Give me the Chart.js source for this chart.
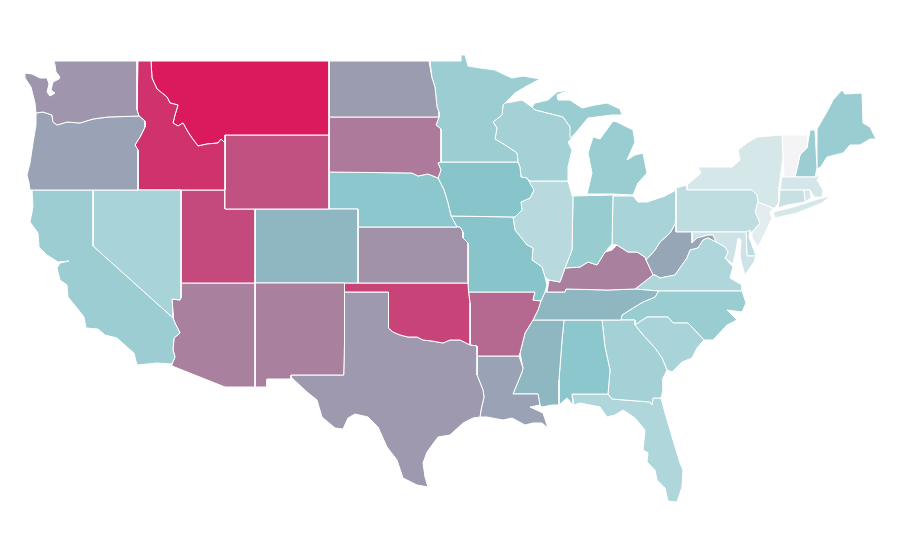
<!DOCTYPE html>
<html>
<head>
<meta charset="utf-8">
<title>Lower 48 states</title>
<script src="https://cdn.jsdelivr.net/npm/chart.js@4"></script>
<style>
	html, body { margin: 0; padding: 0; background: #fff; }
	#box { width: 900px; height: 560px; }
</style>
</head>
<body>
<div id="box"><canvas id="mapa" width="900" height="560"></canvas></div>
<script>
// state values, 0 (lightest) to 100 (most red)
const stateNames = ['Washington', 'Oregon', 'California', 'Nevada', 'Idaho', 'Montana', 'Wyoming', 'Utah', 'Arizona', 'New Mexico', 'Colorado', 'North Dakota', 'South Dakota', 'Nebraska', 'Kansas', 'Oklahoma', 'Texas', 'Minnesota', 'Iowa', 'Missouri', 'Arkansas', 'Louisiana', 'Wisconsin', 'Illinois', 'Michigan', 'Michigan (upper)', 'Indiana', 'Ohio', 'Kentucky', 'Tennessee', 'Mississippi', 'Alabama', 'Georgia', 'Florida', 'South Carolina', 'North Carolina', 'Virginia', 'West Virginia', 'Maryland', 'Delaware', 'Pennsylvania', 'New Jersey', 'New York', 'New York (Long Island)', 'Connecticut', 'Rhode Island', 'Massachusetts', 'Vermont', 'New Hampshire', 'Maine'];
const stateValues = [64, 60, 41, 35, 93, 100, 84, 86, 70, 70, 54, 62, 72, 48, 65, 88, 63, 41, 50, 50, 77, 60, 37, 28, 42, 42, 43, 35, 70, 54, 54, 48, 37, 32, 35, 42, 32, 59, 18, 25, 25, 8, 14, 14, 21, 15, 15, 0, 41, 42];

// outlines as x,y pairs in map units (0-900 across, 0-560 down)
const washington = [54,61, 137,61, 137,110, 139,116, 108,117, 93,119, 80,123, 67,122, 57,125, 53,122, 52,115, 43,112, 36,113, 35,103, 31,87, 25,78, 25,73, 32,74, 40,78, 47,78, 49,84, 47,92, 50,96, 55,93, 51,90, 53,82, 59,79, 60,77, 56,72, 55,65];
const oregon = [36,113, 43,112, 52,115, 53,122, 57,125, 67,122, 80,123, 93,119, 108,117, 139,116, 145,121, 145,127, 140,137, 135,145, 138,150, 138,157, 138,190, 30,190, 29,183, 27,175, 30,163, 33,143, 36,125];
const california = [32,190, 93,190, 93,246, 173,318, 175,323, 180,333, 174,338, 173,350, 175,357, 172,364, 157,363, 137,365, 134,353, 127,347, 117,338, 105,335, 98,329, 86,328, 84,317, 77,308, 68,297, 67,285, 60,280, 57,268, 60,263, 69,261, 58,262, 47,255, 39,247, 38,233, 30,222, 33,207];
const nevada = [93,190, 181,190, 181,283, 181,298, 180,300, 172,299, 173,313, 173,318, 93,246];
const idaho = [138,61, 151,61, 152,78, 157,89, 167,97, 170,103, 178,105, 175,115, 173,123, 178,126, 183,123, 188,132, 192,138, 198,146, 207,144, 218,143, 221,139, 225,143, 225,190, 138,190, 138,157, 138,150, 135,145, 140,137, 145,127, 145,121, 139,116, 137,110];
const montana = [151,61, 329,61, 329,135, 225,135, 225,143, 221,139, 218,143, 207,144, 198,146, 192,138, 188,132, 183,123, 178,126, 173,123, 175,115, 178,105, 170,103, 167,97, 157,89, 152,78];
const wyoming = [225,135, 329,135, 329,209, 225,209];
const utah = [181,190, 225,190, 225,209, 255,209, 255,283, 181,283];
const arizona = [181,283, 255,283, 255,387, 225,387, 172,366, 172,364, 175,357, 173,350, 174,338, 180,333, 175,323, 173,318, 173,313, 172,299, 180,300];
const newMexico = [255,283, 344.5,283, 344.5,343, 343.7,375, 291,375, 291,379, 267,379, 267,387, 255,387];
const colorado = [255,209, 358,209, 358,283, 255,283];
const northDakota = [329,61, 429,61, 432,78, 435,87, 437,107, 439,112, 439,117, 329,117];
const southDakota = [329,117, 439,117, 436,125, 441,129, 441,162, 438,163, 441,170, 438,178, 428,174, 418,176, 412,173, 329,172];
const nebraska = [329,172, 412,173, 418,176, 428,174, 438,178, 444,190, 448,203, 451,216, 457,227, 358,227, 358,209, 329,209];
const kansas = [358,227, 457,227, 460,227, 463,232, 463,238, 468,243, 468,283, 358,283];
const oklahoma = [344.5,283, 468,283, 468.5,292, 470,303, 470,345, 460,340, 450,340, 443,343, 432,341, 423,340, 417,337, 408,337, 400,335, 393,332, 388.5,328, 388.5,292, 344.5,292];
const texas = [344.5,292, 388.5,292, 388.5,328, 393,332, 400,335, 408,337, 417,337, 423,340, 432,341, 443,343, 450,340, 460,340, 470,345, 477,346, 477,375, 483,390, 484,397, 481,410, 480,417, 473,418, 463,423, 450,435, 438,437, 427,452, 423,463, 425,477, 428,487, 417,485, 403,478, 397,460, 387,447, 378,427, 368,417, 355,414, 348,418, 343,429, 335,428, 322,417, 317,400, 307,392, 291,377, 291,375, 343.7,375, 344.5,343];
const minnesota = [430,61, 461,61, 461,55, 465,55, 468,66, 480,68, 495,70, 503,74, 512,78, 523,76, 540,79, 525,87, 515,93, 505,103, 503,105, 502,115, 493,122, 497,128, 495,139, 505,145, 517,153, 518,162, 441,162, 441,129, 436,125, 439,117, 439,112, 437,107, 435,87, 432,78];
const iowa = [441,162, 518,162, 520,167, 521,177, 527,178, 534,190, 530,198, 521,202, 522,210, 515,217, 451,216, 448,203, 444,190, 438,178, 441,170, 438,163];
const missouri = [451,216, 515,217, 513,217, 515,230, 527,245, 533,248, 532,260, 542,267, 545,277, 547,285, 545,292, 541,301, 533,300, 535,292, 468.5,292, 468,283, 468,243, 463,238, 463,232, 460,227, 457,227];
const arkansas = [468.5,292, 535,292, 533,300, 541,301, 538,310, 533,320, 525,333, 520,353, 519,356, 477,356, 477,346, 470,345, 470,303];
const louisiana = [477,356, 519,356, 523,368, 522,372, 513,394, 538,394, 540,405, 530,407, 543,413, 548,428, 542,423, 533,423, 525,425, 512,418, 503,420, 487,417, 480,417, 481,410, 484,397, 483,390, 477,375];
const wisconsin = [503,105, 502,115, 493,122, 497,128, 495,139, 505,145, 517,153, 518,162, 520,167, 521,177, 527,178, 530,181, 568,181, 568,167, 572,150, 568,142, 578,132, 570,138, 570,127, 563,117, 535,110, 532,107, 522,100, 512,102, 505,103];
const illinois = [528,181, 568,181, 572,195, 573,197, 572,250, 565,268, 560,282, 549,280, 545,277, 542,267, 532,260, 533,248, 527,245, 515,230, 513,217, 522,210, 521,202, 530,198, 534,190];
const michiganLower = [613,121, 608,128, 600,139, 593,137, 588,153, 592,173, 587,194, 613,194, 633,195, 638,183, 647,173, 643,153, 635,155, 627,160, 635,142, 633,130, 617,122];
const michiganUpper = [535,110, 563,117, 570,127, 567,143, 578,130, 588,118, 612,115, 622,115, 620,109, 607,103, 595,105, 582,108, 570,100, 558,100, 557,95, 569,90, 557,92, 548,100, 535,103, 532,107];
const indiana = [573,196, 613,195, 612,244, 605,252, 597,265, 588,262, 580,267, 565,268, 572,250];
const ohio = [613,196, 633,196, 638,202, 647,202, 665,196, 676,190, 676,217, 675,224, 670,233, 660,242, 655,250, 646,260, 645,257, 637,252, 628,252, 617,245, 612,244];
const kentucky = [612,250, 617,245, 628,252, 637,252, 645,257, 646,260, 653,275, 635,289, 608,290, 566,289, 565,292, 547,292, 549,280, 560,282, 565,268, 580,267, 588,262, 597,265, 605,252];
const tennessee = [545,292, 565,292, 566,289, 608,290, 635,289, 658,291, 658,292, 655,297, 643,302, 633,308, 622,315, 621,320, 533,320, 538,310, 541,301];
const mississippi = [533,320, 564,320, 562,340, 559,380, 559,405, 552,405, 542,407, 540,405, 538,394, 513,394, 522,372, 523,368, 520,353, 525,333];
const alabama = [564,320, 602,320, 605,347, 610,370, 608,394, 572,394, 573,405, 567,398, 559,405, 559,380, 562,340];
const georgia = [602,320, 635,320, 635,325, 643,335, 655,348, 662,358, 667,370, 663,378, 663,390, 661,398, 653,398, 652,405, 650,402, 612,399, 608,394, 610,370, 605,347];
const florida = [572,394, 608,394, 612,399, 650,402, 652,405, 653,398, 661,398, 665,413, 673,440, 680,463, 683,470, 682,487, 677,502, 668,501, 665,488, 657,480, 655,470, 647,462, 648,453, 643,450, 645,430, 635,418, 623,410, 615,415, 607,417, 600,407, 580,403, 574,405];
const southCarolina = [635,325, 647,317, 668,317, 673,323, 688,323, 704,340, 697,348, 692,358, 682,362, 672,372, 667,370, 662,358, 655,348, 643,335];
const northCarolina = [658,291, 742,291, 746,303, 742,312, 727,310, 737,320, 727,325, 713,340, 704,340, 688,323, 673,323, 668,317, 647,317, 635,325, 635,320, 621,320, 622,315, 633,308, 643,302, 655,297, 658,292];
const virginia = [635,289, 653,275, 655,275, 660,278, 675,275, 682,265, 687,258, 690,250, 698,248, 703,240, 708,238, 716,242, 725,247, 728,252, 725,258, 733,267, 730,278, 742,285, 742,291, 658,291];
const westVirginia = [676,217, 676,232, 692,232, 692,243, 697,238, 708,235, 713,235, 716,242, 708,238, 703,240, 698,248, 690,250, 687,258, 682,265, 675,275, 660,278, 655,275, 653,275, 646,260, 655,250, 660,242, 670,233, 675,224];
const maryland = [692,232, 746,232, 747,256, 756,256, 754,262, 745,275, 742,265, 740,255, 741,240, 738,238, 736,250, 733,264, 725,258, 728,252, 725,247, 716,242, 713,235, 708,235, 697,238, 692,243];
const delaware = [746,232, 750,230, 749,237, 755,253, 756,256, 747,256];
const pennsylvania = [676,188, 687,185, 687,190, 752,190, 757,195, 758,201, 755,212, 760,223, 752,232, 746,232, 676,232];
const newJersey = [758,201, 760,203, 773,208, 770,213, 772,218, 765,233, 758,247, 752,238, 752,232, 760,223, 755,212];
const newYork = [687,190, 687,185, 701,173, 698,167, 718,167, 732,167, 740,160, 738,150, 747,143, 757,137, 782,135, 783,157, 779,187, 779,202, 775,208, 773,208, 760,203, 758,201, 757,195, 752,190];
const longIsland = [773,212, 797,206, 815,200, 830,196, 822,203, 797,213, 775,218];
const connecticut = [780,190, 804,190, 805,202, 787,205, 778,208, 779,202];
const rhodeIsland = [804,190, 810,190, 811,198, 805,202];
const massachusetts = [782,177, 795,177, 815,177, 820,175, 817,180, 823,190, 822,197, 814,197, 810,190, 780,190];
const vermont = [782,135, 808,135, 807,148, 800,155, 795,177, 784,177, 783,157];
const newHampshire = [810,130, 815,130, 817,168, 815,177, 795,177, 800,155, 807,148];
const maine = [817,129, 828,110, 833,100, 842,90, 845,94, 862,93, 863,123, 870,127, 876,139, 870,139, 860,145, 850,145, 843,153, 827,157, 820,168, 817,168];

const stateOutlines = [washington, oregon, california, nevada, idaho, montana, wyoming, utah, arizona, newMexico, colorado, northDakota, southDakota, nebraska, kansas, oklahoma, texas, minnesota, iowa, missouri, arkansas, louisiana, wisconsin, illinois, michiganLower, michiganUpper, indiana, ohio, kentucky, tennessee, mississippi, alabama, georgia, florida, southCarolina, northCarolina, virginia, westVirginia, maryland, delaware, pennsylvania, newJersey, newYork, longIsland, connecticut, rhodeIsland, massachusetts, vermont, newHampshire, maine];

// colour ramp: lightest -> teal at 50 -> crimson at 100
function corDoValor(valor) {
	const baixo = [244, 244, 246], meio = [136, 197, 203], alto = [219, 26, 94];
	const a = valor <= 50 ? baixo : meio;
	const b = valor <= 50 ? meio : alto;
	const t = valor <= 50 ? valor / 50 : (valor - 50) / 50;
	const c = a.map((v, i) => Math.round(v + (b[i] - v) * t));
	return 'rgb(' + c.join(',') + ')';
}

function paraPontos(contorno) {
	const pontos = [];
	for (let i = 0; i < contorno.length; i += 2) {
		pontos.push({ x: contorno[i], y: contorno[i + 1] });
	}
	pontos.push({ x: contorno[0], y: contorno[1] });
	return pontos;
}

new Chart(document.getElementById('mapa').getContext('2d'), {
	type: 'scatter',
	data: {
		datasets: stateOutlines.map((contorno, i) => ({
			label: stateNames[i],
			data: paraPontos(contorno),
			showLine: true,
			fill: 'shape',
			backgroundColor: corDoValor(stateValues[i]),
			borderColor: '#ffffff',
			borderWidth: 1,
			borderJoinStyle: 'round',
			tension: 0,
			pointRadius: 0,
			pointHoverRadius: 0
		}))
	},
	options: {
		responsive: false,
		animation: false,
		layout: { padding: 0 },
		plugins: { legend: { display: false }, tooltip: { enabled: false } },
		scales: {
			x: { type: 'linear', min: 0, max: 900, display: false },
			y: { type: 'linear', min: 0, max: 560, reverse: true, display: false }
		}
	}
});
</script>
</body>
</html>
